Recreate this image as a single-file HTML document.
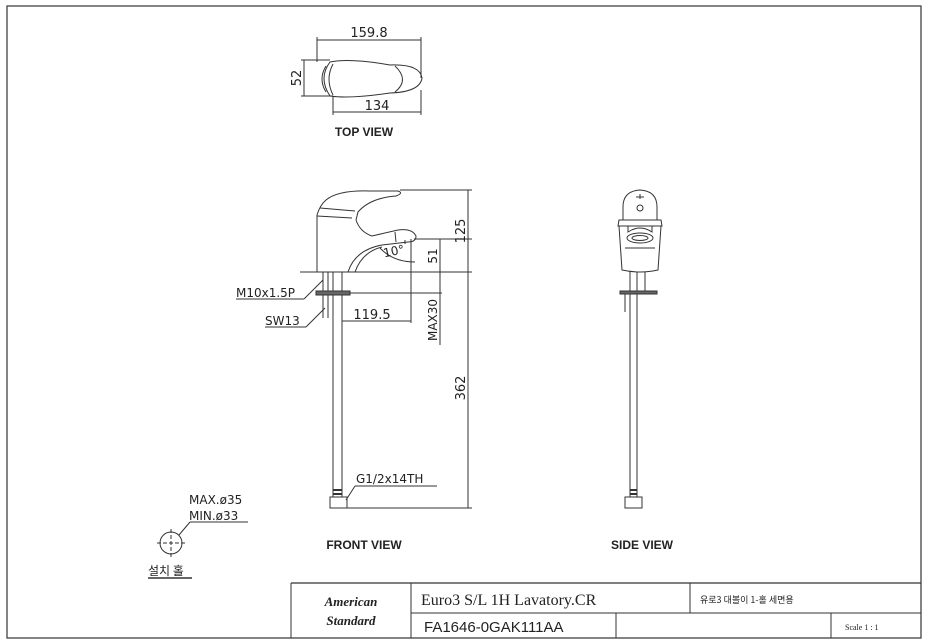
<!DOCTYPE html>
<html><head><meta charset="utf-8"><style>
html,body{margin:0;padding:0;background:#fff;}
svg{display:block}
text{font-family:"DejaVu Sans","Liberation Sans",sans-serif;fill:#222}
.b{font-family:"Liberation Sans",sans-serif;font-weight:bold}
.s{font-family:"Liberation Serif",serif}
</style></head><body>
<svg width="929" height="643" viewBox="0 0 929 643" xmlns="http://www.w3.org/2000/svg" fill="none" stroke="#333" stroke-width="1">
<rect x="7" y="6" width="914" height="632" stroke-width="1.2"/>
<line x1="291" y1="583" x2="921" y2="583" stroke-width="1.2"/>
<line x1="291" y1="583" x2="291" y2="638"/>
<line x1="411" y1="583" x2="411" y2="638"/>
<line x1="411" y1="613" x2="921" y2="613"/>
<line x1="690" y1="583" x2="690" y2="613"/>
<line x1="616" y1="613" x2="616" y2="638"/>
<line x1="831" y1="613" x2="831" y2="638"/>
<g stroke="none">
<text x="351" y="606" class="s" font-style="italic" font-weight="bold" font-size="13" text-anchor="middle" fill="#555">American</text>
<text x="351" y="625" class="s" font-style="italic" font-weight="bold" font-size="13" text-anchor="middle" fill="#555">Standard</text>
<text x="421" y="605" class="s" font-size="16">Euro3 S/L 1H Lavatory.CR</text>
<text x="700" y="603" font-size="9" fill="#555" style='font-family:"Noto Sans CJK KR",sans-serif'>유로3 대볼이 1-홀 세면용</text>
<text x="424" y="632" font-size="15" style='font-family:"Liberation Sans",sans-serif'>FA1646-0GAK111AA</text>
<text x="845" y="630" class="s" font-size="8">Scale 1 : 1</text>
</g>

<!-- TOP VIEW -->
<path d="M330 62 Q318 78 330 96 Q350 99 390 93 Q420 92 422 78 Q420 64 390 65 Q350 58 330 62 Z"/>
<path d="M326 66 Q318 79 326 92"/>
<path d="M333 64 Q325 79 333 95"/>
<path d="M395 66 Q410 80 395 92"/>
<line x1="317" y1="40" x2="421" y2="40"/>
<line x1="317" y1="37" x2="317" y2="62"/>
<line x1="421" y1="37" x2="421" y2="78"/>
<line x1="304" y1="60" x2="304" y2="96"/>
<line x1="301" y1="60" x2="330" y2="60"/>
<line x1="301" y1="96" x2="333" y2="96"/>
<line x1="333" y1="112" x2="421" y2="112"/>
<line x1="333" y1="96" x2="333" y2="115"/>
<line x1="421" y1="90" x2="421" y2="115"/>
<g stroke="none">
<text x="369" y="37" font-size="13" text-anchor="middle">159.8</text>
<text x="377" y="110" font-size="13" text-anchor="middle">134</text>
<text transform="translate(301 78) rotate(-90)" font-size="13" text-anchor="middle">52</text>
<text x="364" y="136" class="b" font-size="12" text-anchor="middle">TOP VIEW</text>
</g>

<!-- FRONT VIEW -->
<path d="M317 272 L317 215 Q320 205 326 200 Q338 190 370 191 L398 191 Q404 193 396 196 Q370 198 358 212 L356 220"/>
<path d="M317 216 L352 218"/>
<path d="M320 208 L355 211"/>
<path d="M356 220 Q360 232 372 236 L398 230 Q412 228 416 236 Q416 242 408 242 L382 245 Q355 250 348 272"/>
<path d="M355 272 Q362 252 382 247"/>
<line x1="405" y1="240" x2="405" y2="244"/>
<path d="M395 232 L396 242"/>
<line x1="300" y1="272" x2="472" y2="272"/>
<line x1="323" y1="272" x2="323" y2="318"/>
<line x1="328" y1="272" x2="328" y2="318"/>
<line x1="333" y1="272" x2="333" y2="497"/>
<line x1="342" y1="272" x2="342" y2="497"/>
<rect x="316" y="291" width="34" height="4" fill="#666"/>
<line x1="350" y1="293" x2="442" y2="293"/>
<rect x="330" y="497" width="17" height="11"/>
<line x1="333" y1="490" x2="342" y2="490" stroke-width="2"/>
<line x1="333" y1="494" x2="342" y2="494" stroke-width="2"/>
<line x1="414" y1="239" x2="472" y2="239"/>
<line x1="400" y1="190" x2="472" y2="190"/>
<line x1="468" y1="190" x2="468" y2="508"/>
<line x1="440" y1="239" x2="440" y2="272"/>
<line x1="440" y1="272" x2="440" y2="345"/>
<line x1="411" y1="239" x2="411" y2="323"/>
<line x1="342" y1="321" x2="411" y2="321"/>
<line x1="347" y1="508" x2="472" y2="508"/>
<path d="M380 248 Q393 262 415 262"/>
<line x1="236" y1="299" x2="304" y2="299"/>
<line x1="304" y1="299" x2="323" y2="280"/>
<line x1="265" y1="327" x2="306" y2="327"/>
<line x1="306" y1="327" x2="325" y2="308"/>
<line x1="355" y1="486" x2="437" y2="486"/>
<line x1="355" y1="486" x2="346" y2="500"/>
<g stroke="none">
<text transform="translate(465 231) rotate(-90)" font-size="13" text-anchor="middle">125</text>
<text transform="translate(437 256) rotate(-90)" font-size="12" text-anchor="middle">51</text>
<text transform="translate(437 320) rotate(-90)" font-size="12" text-anchor="middle">MAX30</text>
<text transform="translate(465 388) rotate(-90)" font-size="13" text-anchor="middle">362</text>
<text x="383" y="255" font-size="12" transform="rotate(-12 395 250)">10°</text>
<text x="372" y="319" font-size="13" text-anchor="middle">119.5</text>
<text x="236" y="297" font-size="12">M10x1.5P</text>
<text x="265" y="325" font-size="12">SW13</text>
<text x="356" y="483" font-size="12">G1/2x14TH</text>
<text x="364" y="549" class="b" font-size="12" text-anchor="middle">FRONT VIEW</text>
</g>

<circle cx="171" cy="543" r="11"/>
<line x1="157" y1="543" x2="185" y2="543" stroke-dasharray="4 2"/>
<line x1="171" y1="529" x2="171" y2="557" stroke-dasharray="4 2"/>
<line x1="179" y1="535" x2="190" y2="522"/>
<line x1="190" y1="522" x2="248" y2="522"/>
<line x1="148" y1="578" x2="192" y2="578" stroke-width="1.5"/>
<g stroke="none">
<text x="189" y="504" font-size="12">MAX.ø35</text>
<text x="189" y="520" font-size="12">MIN.ø33</text>
<text x="148" y="575" font-size="12" style='font-family:"Noto Sans CJK KR",sans-serif'>설치 홀</text>
</g>

<!-- SIDE VIEW -->
<path d="M623 207 Q623 191 640 190 Q657 191 657 207 L657 220 L623 220 Z"/>
<line x1="640" y1="194" x2="640" y2="199"/>
<line x1="636" y1="197" x2="644" y2="197"/>
<circle cx="640" cy="208" r="3"/>
<path d="M619 220 L661 220 L662 226 L618 226 Z"/>
<path d="M628 226 L628 232 Q640 224 652 232 L652 226"/>
<ellipse cx="640" cy="238" rx="13" ry="5"/>
<ellipse cx="640" cy="238" rx="8" ry="2.5"/>
<path d="M619 226 L622 270 Q640 274 658 270 L661 226"/>
<line x1="625" y1="248" x2="655" y2="248"/>
<line x1="630" y1="272" x2="630" y2="497"/>
<line x1="637" y1="272" x2="637" y2="497"/>
<line x1="645" y1="272" x2="645" y2="292"/>
<rect x="620" y="291" width="37" height="3" fill="#666"/>
<line x1="625" y1="294" x2="625" y2="312"/>
<rect x="625" y="497" width="17" height="11"/>
<line x1="630" y1="490" x2="637" y2="490" stroke-width="2"/>
<line x1="630" y1="494" x2="637" y2="494" stroke-width="2"/>
<g stroke="none">
<text x="642" y="549" class="b" font-size="12" text-anchor="middle">SIDE VIEW</text>
</g>
</svg>
</body></html>
